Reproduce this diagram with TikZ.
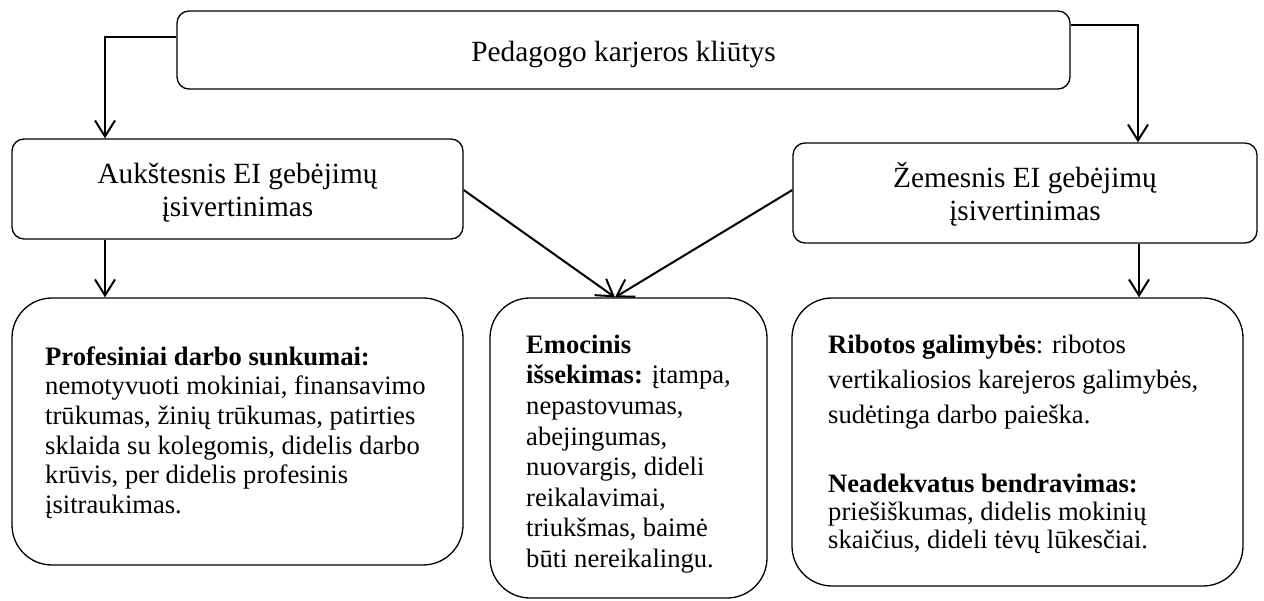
\documentclass[tikz,border=0pt]{standalone}
\usepackage{fontspec}
\setmainfont{Liberation Serif}
\usetikzlibrary{arrows.meta}
\begin{document}
\begin{tikzpicture}[x=1pt,y=-1pt,
  box/.style={draw, line width=1.3pt, rounded corners=12pt, inner sep=0pt},
  bigbox/.style={draw, line width=1.3pt, rounded corners=40pt, inner sep=0pt},
  headtext/.style={inner sep=0pt, align=center, font=\fontsize{29.3}{33}\selectfont},
  bodytext/.style={inner sep=0pt, align=left, anchor=north west},
  conn/.style={line width=2pt, -{Straight Barb[length=16pt,width=20pt]}}]
\useasboundingbox (0,0) rectangle (1264,601);

% frames
\node[box, minimum width=893pt, minimum height=78pt] (top) at (623.5,50) {};
\node[box, minimum width=451pt, minimum height=100pt] (l1) at (237.5,189) {};
\node[box, minimum width=464pt, minimum height=100pt] (r1) at (1025,193) {};
\node[bigbox, minimum width=451pt, minimum height=267pt] (l2) at (237.5,431.5) {};
\node[bigbox, minimum width=277pt, minimum height=300pt] (m2) at (628.5,448) {};
\node[bigbox, minimum width=451pt, minimum height=288pt] (r2) at (1017.5,442) {};

% headings
\node[headtext, anchor=base] (toptext) at (623.5,62) {Pedagogo karjeros kliūtys};
\node[headtext, anchor=north] (l1text) at (237.5,159.9) {\strut Aukštesnis EI gebėjimų\\įsivertinimas};
\node[headtext, anchor=north] (r1text) at (1025,161.9) {\strut Žemesnis EI gebėjimų\\įsivertinimas};

% obstacle descriptions
\node[bodytext, font=\fontsize{26.6}{29.6}\selectfont] (l2text) at (45,344.3) {%
\strut\textbf{Profesiniai darbo sunkumai:}\\
nemotyvuoti mokiniai, finansavimo\\
trūkumas, žinių trūkumas, patirties\\
sklaida su kolegomis, didelis darbo\\
krūvis, per didelis profesinis\\
įsitraukimas.};
\node[bodytext, font=\fontsize{26.6}{30.6}\selectfont] (m2text) at (526,331.6) {%
\strut\textbf{Emocinis}\\
\textbf{išsekimas:} įtampa,\\
nepastovumas,\\
abejingumas,\\
nuovargis, dideli\\
reikalavimai,\\
triukšmas, baimė\\
būti nereikalingu.};
\node[bodytext, font=\fontsize{26.6}{30}\selectfont] (r2text) at (828,332) {%
\strut\textbf{Ribotos galimybės}: ribotos\\[5pt]
vertikaliosios karejeros galimybės,\\[5pt]
sudėtinga darbo paieška.\\[39pt]
\textbf{Neadekvatus bendravimas:}\\[-2pt]
priešiškumas, didelis mokinių\\[-2pt]
skaičius, dideli tėvų lūkesčiai.};

% connectors
\draw[conn] (top.west |- 0,37) -| (l1.north -| 105,0);
\draw[conn] (top.east |- 0,25) -| (r1.north -| 1138,0);
\draw[conn] (l1.south -| 105,0) -- (l2.north -| 105,0);
\draw[conn] (r1.south -| 1139,0) -- (r2.north -| 1139,0);
\draw[conn] (l1.east |- 0,190) -- (m2.north -| 615,0);
\draw[conn] (r1.west |- 0,190) -- (m2.north -| 615,0);
\end{tikzpicture}
\end{document}
